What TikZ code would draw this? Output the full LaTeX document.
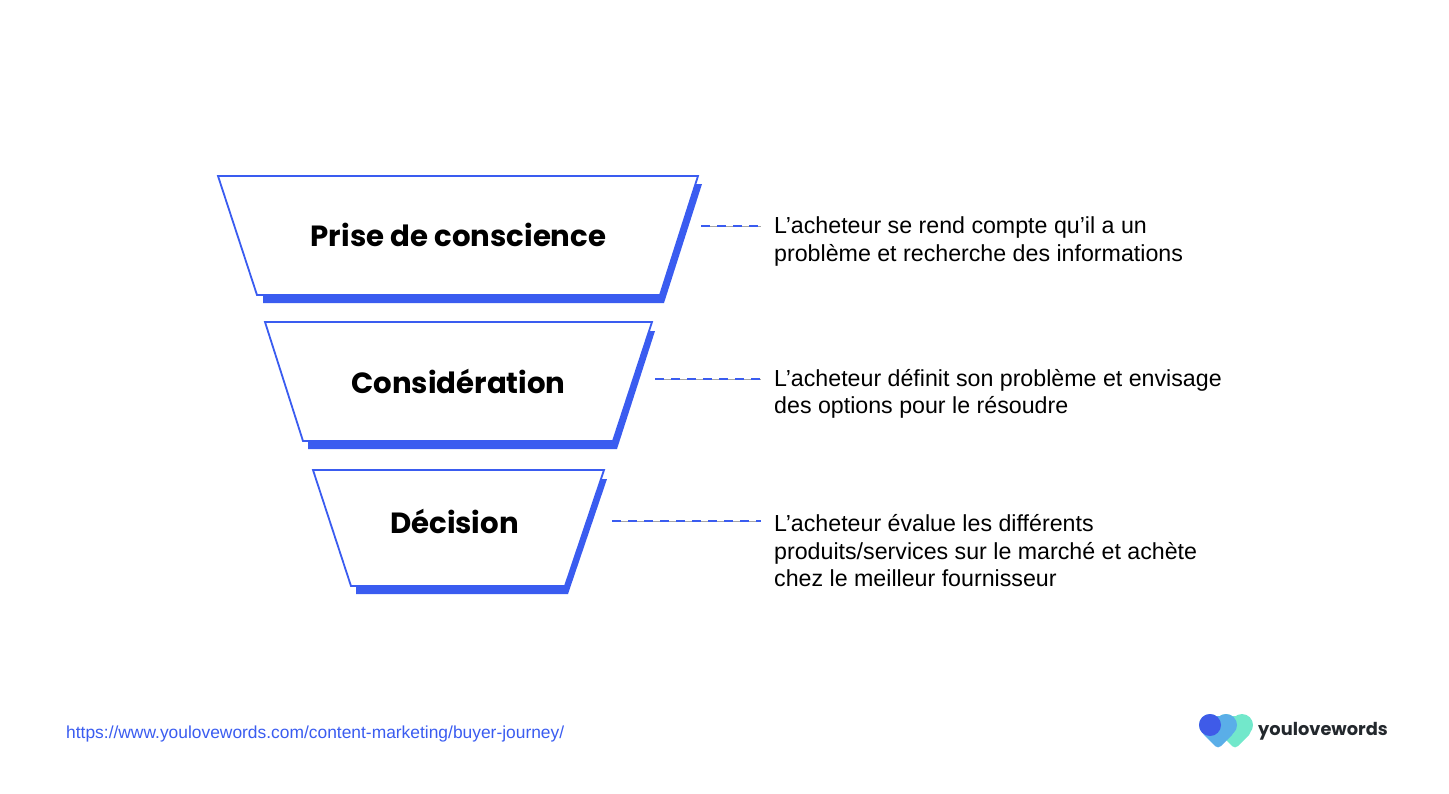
\documentclass[tikz,border=0pt]{standalone}
\usepackage{fontspec}
\setmainfont{Liberation Sans}
\newfontfamily\poppinsfont{Poppins}
\usepackage{tikz}
\usetikzlibrary{calc}
\definecolor{funnelblue}{HTML}{3A5CF0}
\definecolor{heartblue}{HTML}{3F5BE8}
\definecolor{heartsky}{HTML}{5AAEE8}
\definecolor{heartmint}{HTML}{72E8CB}
\definecolor{logotext}{HTML}{23282D}
\tikzset{
  % Funnel levels
  levelshadow/.style={fill=funnelblue},
  levelframe/.style={fill=white, draw=funnelblue, line width=1.8pt, line join=miter},
  leveltitle/.style={inner sep=0pt, font=\poppinsfont\bfseries\fontsize{29.2}{36}\selectfont},
  % Descriptions
  levelinfo/.style={anchor=west, align=left, inner ysep=0pt, inner xsep=13pt, font=\fontsize{23.2}{27.5}\selectfont},
  % Pointers
  infopointer/.style={draw=funnelblue, line width=2pt, dash pattern=on 9pt off 7pt,
    preaction={draw=black!35, line width=0.7pt, solid}},
  % Footer
  footerlink/.style={anchor=west, inner sep=0pt, text=funnelblue, font=\fontsize{17.4}{20}\selectfont},
  logoword/.style={anchor=west, inner sep=0pt, text=logotext, font=\poppinsfont\bfseries\fontsize{17.8}{24}\selectfont},
}
\begin{document}
\begin{tikzpicture}[x=1pt, y=-1pt]
  \useasboundingbox (0,0) rectangle (1449,793);

  % Funnel levels
  \fill[levelshadow] (263,184) -- (702,184) -- (664,303) -- (263,303) -- cycle;
  \draw[levelframe] (218,176) -- (698,176) -- (660,295) -- (257,295) -- cycle;
  \fill[levelshadow] (308,331) -- (655,331) -- (617,449) -- (308,449) -- cycle;
  \draw[levelframe] (265,322) -- (652,322) -- (613,441) -- (303,441) -- cycle;
  \fill[levelshadow] (356,479) -- (607,479) -- (568,594) -- (356,594) -- cycle;
  \draw[levelframe] (313,470) -- (604,470) -- (565,586) -- (351,586) -- cycle;

  \node[leveltitle] (prise) at (458.5,235) {Prise de conscience};
  \node[leveltitle] (consideration) at (458.5,381.5) {Considération};
  \node[leveltitle] (decision) at (454.5,521.5) {Décision};

  % Descriptions
  \node[levelinfo] (priseinfo) at (761,241.5) {L’acheteur se rend compte qu’il a un \\ problème et recherche des informations};
  \node[levelinfo] (considerationinfo) at (761,394) {L’acheteur définit son problème et envisage \\ des options pour le résoudre};
  \node[levelinfo] (decisioninfo) at (761,551) {L’acheteur évalue les différents \\ produits/services sur le marché et achète \\ chez le meilleur fournisseur};

  \coordinate (prisetip) at (701,226);
  \coordinate (considerationtip) at (655,379);
  \coordinate (decisiontip) at (612,521);
  \draw[infopointer] (prisetip) -- (prisetip -| priseinfo.west);
  \draw[infopointer] (considerationtip) -- (considerationtip -| considerationinfo.west);
  \draw[infopointer] (decisiontip) -- (decisiontip -| decisioninfo.west);

  % Footer
  \node[footerlink] (sourcelink) at (66,733.5) {https://www.youlovewords.com/content-marketing/buyer-journey/};

  % Logo hearts
  \fill[heartmint] (1242,725) circle (11);
  \fill[heartmint] (1226,725) circle (11);
  \fill[heartmint, rounded corners=4pt] (1218,732) -- (1235,749) -- (1252,732) -- (1242,716) -- (1226,716) -- cycle;
  \fill[heartsky] (1226,725) circle (11);
  \fill[heartsky] (1210,725) circle (11);
  \fill[heartsky, rounded corners=4pt] (1201,732) -- (1218,749) -- (1235,732) -- (1226,716) -- (1210,716) -- cycle;
  \fill[heartblue] (1210,725) circle (11);
  \node[logoword] (logoname) at (1258,731.5) {youlovewords};
\end{tikzpicture}
\end{document}
